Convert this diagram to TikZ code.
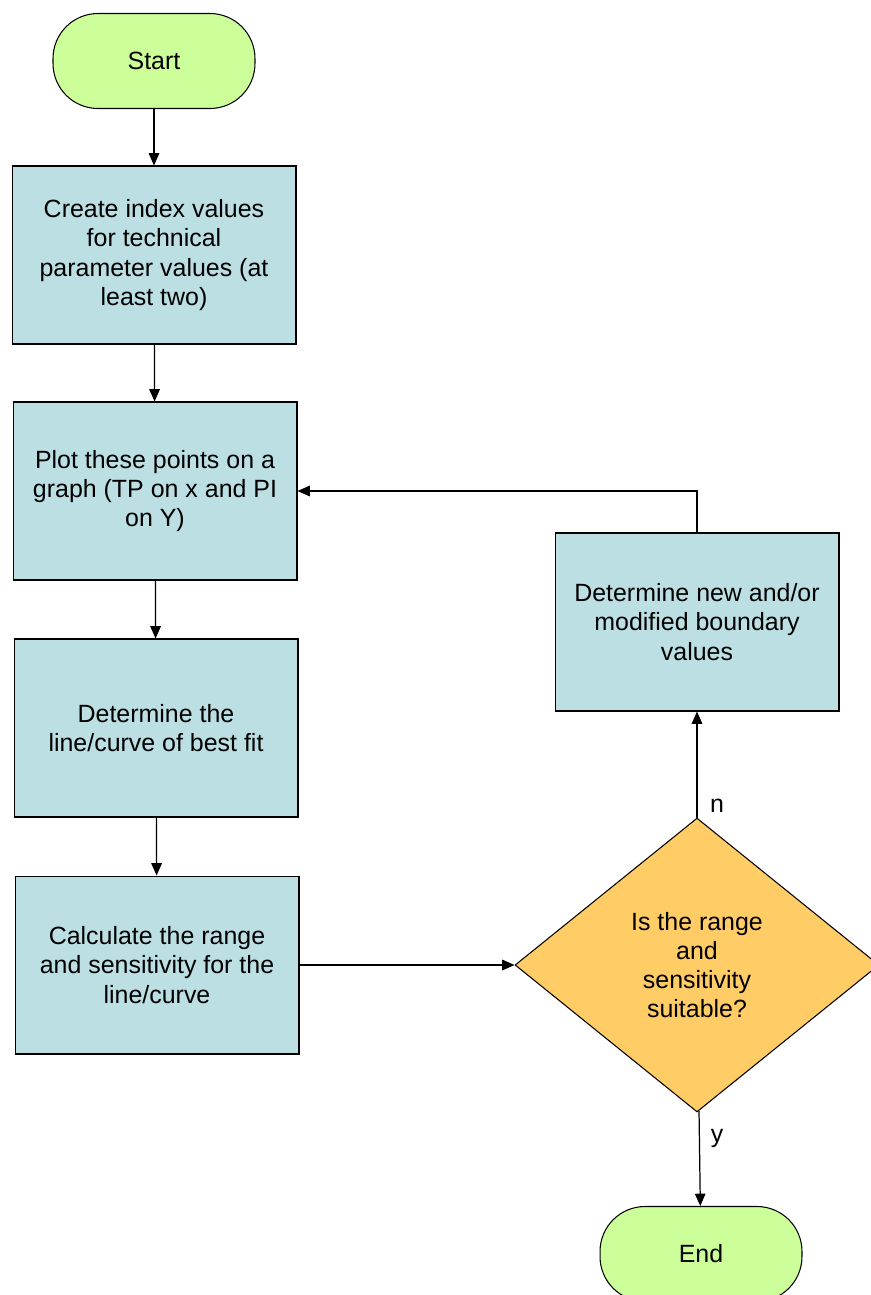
\documentclass[tikz,border=0pt]{standalone}
\usepackage{fontspec}
\setmainfont{Liberation Sans}
\usepackage{tikz}
\usetikzlibrary{positioning}
\usetikzlibrary{shapes.geometric}
\usetikzlibrary{arrows.meta}

\definecolor{termgreen}{HTML}{CCFF99}
\definecolor{boxblue}{HTML}{BBDFE3}
\definecolor{decorange}{HTML}{FFCC66}

\tikzset{
    terminal/.style={draw=black, line width=0.6pt, fill=termgreen, rounded corners=0.9cm,
        minimum width=4.04cm, minimum height=1.9cm, align=center},
    process/.style={draw=black, line width=0.6pt, fill=boxblue,
        minimum width=5.68cm, minimum height=3.56cm, align=center},
    decision/.style={draw=black, line width=0.6pt, fill=decorange, diamond, inner sep=0pt,
        minimum width=7.28cm, minimum height=5.88cm, align=center},
    flow/.style={-{Triangle[length=7pt, width=6pt]}, line width=0.7pt},
    edgelabel/.style={font=\fontsize{14.2}{16.6}\selectfont}
}

\begin{document}
\begin{tikzpicture}[x=0.02cm, y=-0.02cm, font=\fontsize{14.2}{16.6}\selectfont]
    \useasboundingbox (0,0) rectangle (871,1295);
    \clip (0,0) rectangle (871,1295);

    % bodies
    \node [terminal] (start) at (154,61) {Start};
    \node [process] (index) at (154,255) {Create index values\\for technical\\parameter values (at\\least two)};
    \node [process] (plot) at (155,491) {Plot these points on a\\graph (TP on x and PI\\on Y)};
    \node [process] (fit) at (156,728) {Determine the\\line/curve of best fit};
    \node [process] (range) at (157,965) {Calculate the range\\and sensitivity for the\\line/curve};
    \node [process] (bound) at (697,622) {Determine new and/or\\modified boundary\\values};
    \node [decision] (suit) at (697,965) {Is the range\\and\\sensitivity\\suitable?};
    \node [terminal] (end) at (701,1254) {End};

    % connectors
    \draw [flow] (start) -- (index);
    \draw [flow] (index) -- (plot);
    \draw [flow] (plot) -- (fit);
    \draw [flow] (fit) -- (range);
    \draw [flow] (range) -- (suit);
    \draw [flow] (suit) -- (bound);
    \draw [flow] (bound.north) |- (plot.east);
    \draw [flow] (suit) -- (end);

    % Labels
    \node [edgelabel] (nlabel) at (717,806) {n};
    \node [edgelabel] (ylabel) at (717,1138) {y};
\end{tikzpicture}
\end{document}
